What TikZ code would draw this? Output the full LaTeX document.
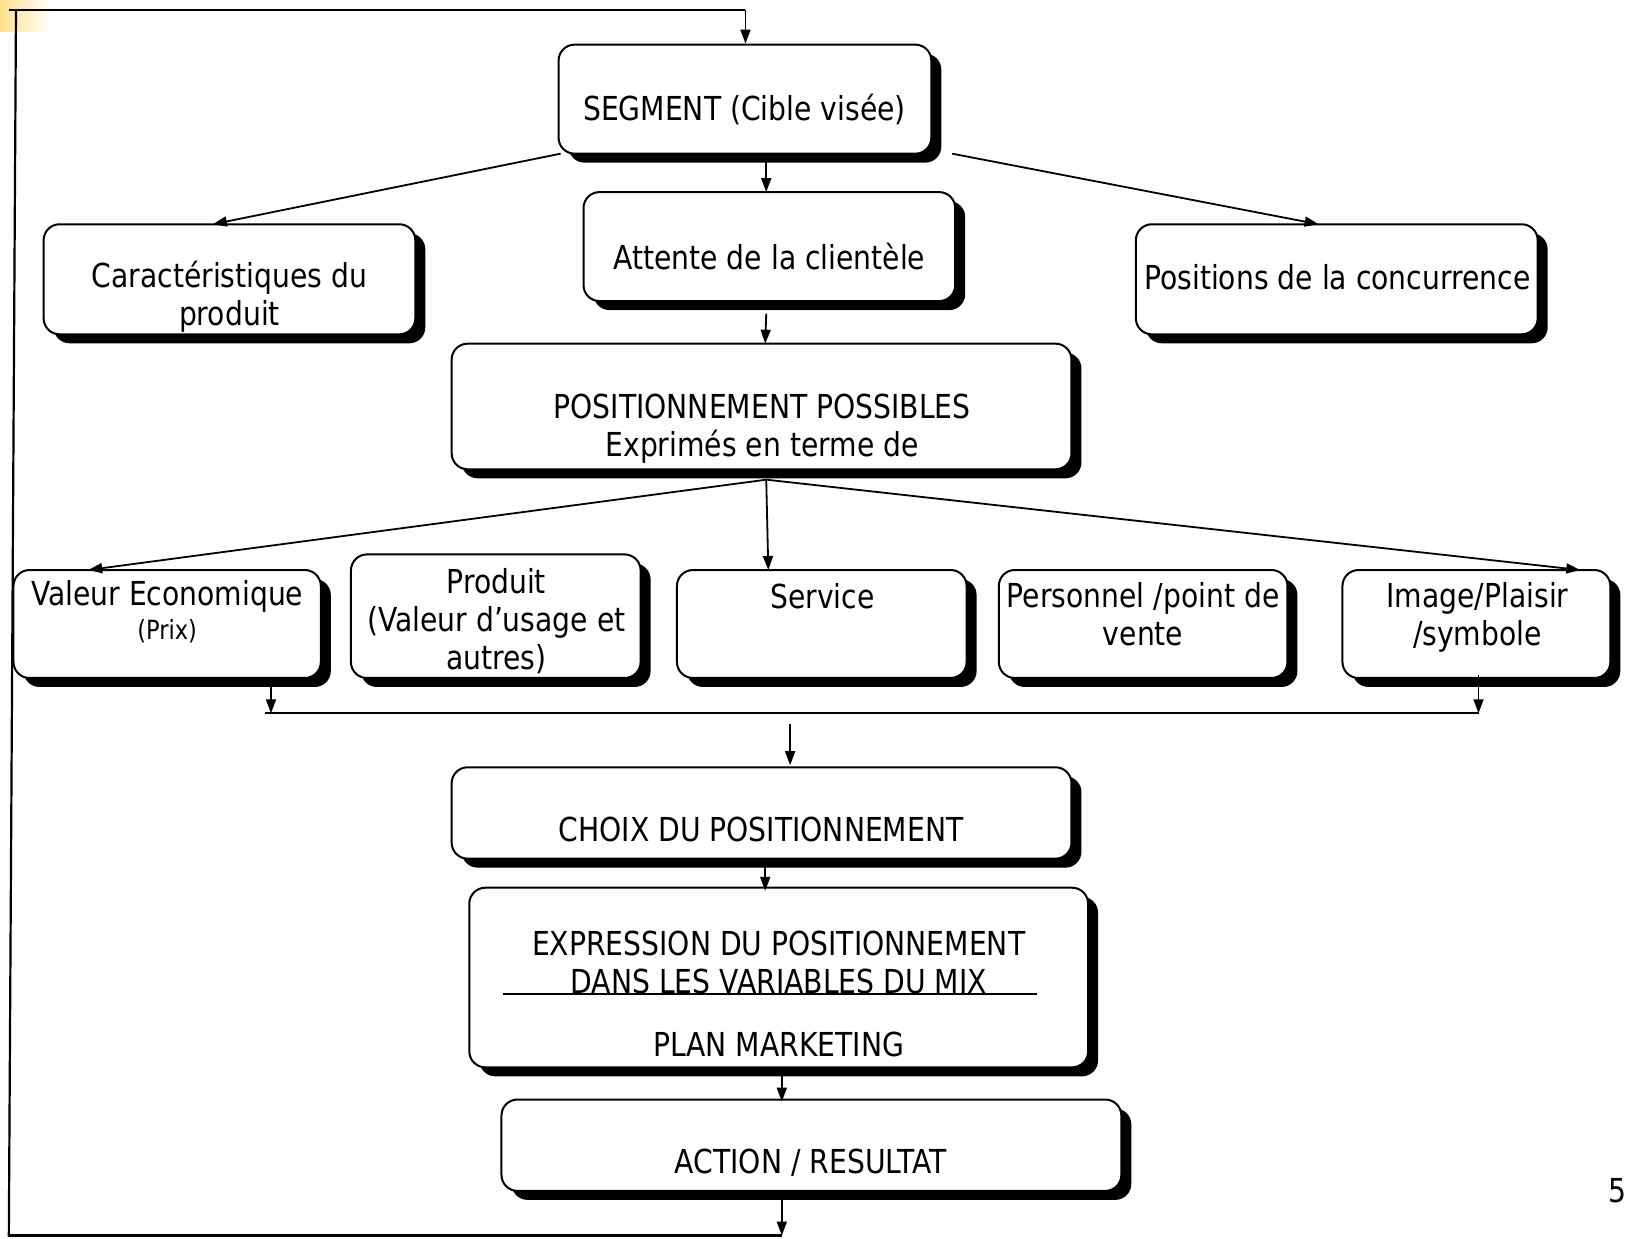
\documentclass[tikz,border=0pt]{standalone}
\usepackage{fontspec}
\setmainfont{DejaVu Sans}[FakeStretch=0.855]
\usetikzlibrary{arrows.meta,shadows}
\tikzset{
  box/.style={draw=black, line width=1pt, fill=white, rounded corners=8pt,
    general shadow={fill=black, shadow xshift=5pt, shadow yshift=-4.5pt}},
  txt/.style={font=\fontsize{16.5}{19}\selectfont, align=center, inner sep=0pt},
  smalltxt/.style={font=\fontsize{13.2}{15}\selectfont, inner sep=0pt},
  conn/.style={line width=0.9pt, -{Triangle[length=7pt,width=5pt]}},
  plain/.style={line width=0.9pt},
  loopline/.style={line width=1.1pt},
}
\newcommand{\mybox}[5]{\node[box, minimum width={(#4-#2)*0.51915pt}, minimum height={(#5-#3)*0.51915pt}] (#1) at ({(#2+#4)/2},{(#3+#5)/2}) {};}
\begin{document}
\begin{tikzpicture}[x=0.51915pt, y=-0.51915pt]
\useasboundingbox (0,0) rectangle (1568,1193);
% corner decoration
\shade[left color=yellow!45!orange!45, right color=white] (0,0) rectangle (50,30);
% boxes
\mybox{seg}{538}{43}{897}{148}
\mybox{car}{42}{216}{400}{322}
\mybox{att}{562}{185}{920}{290}
\mybox{pos}{1094}{216}{1481}{322}
\mybox{posi}{435}{331}{1032}{452}
\mybox{val}{13}{549}{309}{653}
\mybox{prod}{338}{534}{617}{653}
\mybox{serv}{652}{549}{931}{653}
\mybox{pers}{962}{549}{1240}{653}
\mybox{img}{1293}{549}{1551}{653}
\mybox{choix}{435}{739}{1032}{827}
\mybox{expr}{452}{855}{1048}{1028}
\mybox{act}{483}{1059}{1080}{1147}
% texts
\node[txt] (segT) at (717,105) {SEGMENT (Cible visée)};
\node[txt] (carT) at (221,286) {Caractéristiques du\\produit};
\node[txt] (attT) at (741,247) {Attente de la clientèle};
\node[txt] (posT) at (1288,267) {Positions de la concurrence};
\node[txt] (posiT) at (734,413) {POSITIONNEMENT POSSIBLES\\Exprimés en terme de};
\node[txt] (valT) at (161,574) {Valeur Economique};
\node[smalltxt] (valS) at (161,608) {(Prix)};
\node[txt] (prodT) at (478,598) {Produit\\(Valeur d’usage et\\autres)};
\node[txt] (servT) at (792,574) {Service};
\node[txt] (persT) at (1101,592) {Personnel /point de\\vente};
\node[txt] (imgT) at (1423,595) {Image/Plaisir\\/symbole};
\node[txt] (choixT) at (733,799) {CHOIX DU POSITIONNEMENT};
\node[txt] (exprT) at (750,927) {EXPRESSION DU POSITIONNEMENT\\DANS LES VARIABLES DU MIX};
\node[txt] (planT) at (750,1006) {PLAN MARKETING};
\node[txt] (actT) at (781,1120) {ACTION / RESULTAT};
\node[txt, anchor=west] (pageT) at (1549,1147) {5};
% coordinates for connectors
\coordinate (segB) at (738,148);
\coordinate (segL) at (540,148);
\coordinate (segR) at (917,148);
\coordinate (carTop) at (205,216);
\coordinate (posTop) at (1270,216);
\coordinate (attTop) at (738,185);
\coordinate (attB) at (738,302);
\coordinate (posiTop) at (737,331);
\coordinate (posiB) at (738,462);
\coordinate (valTop) at (85,549);
\coordinate (servTop) at (740,549);
\coordinate (imgTop) at (1522,549);
\coordinate (valB) at (261,660);
\coordinate (valJ) at (261,687);
\coordinate (imgB) at (1424,650);
\coordinate (imgJ) at (1424,687);
\coordinate (barL) at (255,687);
\coordinate (choixA) at (761,697);
\coordinate (choixTop) at (761,737);
\coordinate (choixB) at (737,834);
\coordinate (exprTop) at (737,858);
\coordinate (exprB) at (753,1035);
\coordinate (actTop) at (753,1061);
\coordinate (actB) at (753,1155);
\coordinate (loopB) at (753,1190);
\coordinate (loopBL) at (8,1190);
\coordinate (loopTL) at (15.4,10);
\coordinate (loopTLs) at (9,10);
\coordinate (loopTR) at (718,10);
\coordinate (segTop) at (718,42);
\coordinate (ulL) at (484,957);
\coordinate (ulR) at (999,957);
\coordinate (loopBLs) at (8.5,1191);
% connectors
\draw[conn] (segB) -- (attTop);
\draw[conn] (segL) -- (carTop);
\draw[conn] (segR) -- (posTop);
\draw[conn] (attB) -- (posiTop);
\draw[conn] (posiB) -- (valTop);
\draw[conn] (posiB) -- (servTop);
\draw[conn] (posiB) -- (imgTop);
\draw[conn] (valB) -- (valJ);
\draw[conn] (imgB) -- (imgJ);
\draw[plain] (barL) -- (imgJ);
\draw[conn] (choixA) -- (choixTop);
\draw[conn] (choixB) -- (exprTop);
\draw[plain] (ulL) -- (ulR);
\draw[conn] (exprB) -- (actTop);
\draw[conn] (actB) -- (loopB);
\draw[loopline] (loopB) -- (loopBL);
\draw[loopline] (loopBLs) -- (loopTL);
\draw[loopline] (loopTLs) -- (loopTR);
\draw[conn] (loopTR) -- (segTop);
\end{tikzpicture}
\end{document}
